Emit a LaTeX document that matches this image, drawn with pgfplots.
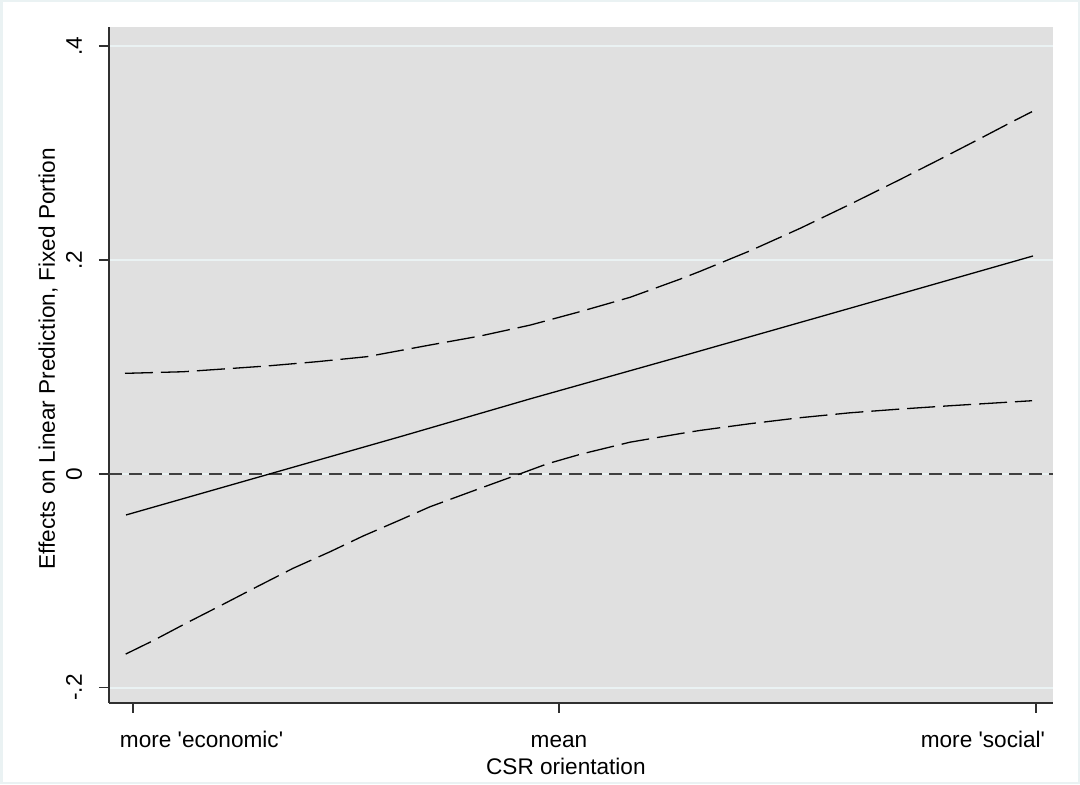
\documentclass[border=0pt]{standalone}
\usepackage{fontspec}
\setmainfont{Liberation Sans}[Ligatures=TeXOff]
\usepackage{pgfplots}
\pgfplotsset{compat=1.18}
\definecolor{plotbg}{HTML}{E0E0E0}
\definecolor{gridc}{HTML}{EAF2F3}
\definecolor{framec}{HTML}{EAF2F3}
\definecolor{zeroc}{HTML}{404040}
\definecolor{axc}{HTML}{303030}
\begin{document}
\begin{tikzpicture}[x=1pt,y=1pt]
\fill[framec] (-54.5,-40.65) rectangle (485.5,351.35);
\fill[white] (-53,-39.65) rectangle (484.5,350.35);
\begin{axis}[
  scale only axis, width=472pt, height=337.7pt,
  at={(0,0)}, anchor=south west,
  xmin=109, xmax=1053, ymin=-0.2142, ymax=0.4176,
  axis lines*=left,
  axis line style={draw=axc, line width=0.8pt},
  axis background/.style={fill=plotbg},
  ymajorgrids, grid style={draw=gridc, line width=1pt},
  xtick={133,559,1036},
  xticklabels={{\makebox[0pt][l]{\hspace{-6.5pt}more 'economic'}},{mean},{\makebox[0pt][r]{more 'social'\hspace{-4.5pt}}}},
  ytick={-0.2,0,0.2,0.4},
  yticklabels={{-.2},{0},{.2},{.4}},
  tick align=outside, major tick length=5pt,
  tick style={draw=axc, line width=0.8pt},
  tick label style={font=\fontsize{11.3}{13}\selectfont, text=black},
  xticklabel style={anchor=base},
  xticklabel shift=17.15pt,
  yticklabel style={rotate=90, anchor=base},
  yticklabel shift=8.5pt,
  label style={font=\fontsize{11.3}{13}\selectfont, text=black},
  xlabel={CSR orientation},
  xlabel style={at={(rel axis cs:0.484,0)}, anchor=base, yshift=-35.65pt},
  ylabel={Effects on Linear Prediction, Fixed Portion},
  ylabel style={at={(rel axis cs:0,0.509)}, anchor=base, yshift=27pt},
]
\addplot[zeroc, line width=1.1pt, dash pattern=on 6.5pt off 3.5pt] coordinates {(109,0) (1053,0)};
\addplot[black, line width=0.65pt, dash pattern=on 14pt off 4pt] coordinates {
(125,0.0939) (183,0.0954) (233,0.0986) (267,0.1008) (317,0.1048) (367,0.1095)
(430,0.1204) (480,0.1288) (530,0.139) (580,0.1516) (630,0.165) (680,0.182)
(700,0.1893) (750,0.2085) (800,0.2295) (850,0.2520) (900,0.2752) (940,0.2942)
(980,0.3135) (1010,0.3282) (1032,0.3387)};
\addplot[black, line width=0.65pt, dash pattern=on 14pt off 4pt] coordinates {
(125.7,-0.1687) (153,-0.1562) (187,-0.1394) (223,-0.1222) (257,-0.1057) (293,-0.0885)
(330,-0.073) (363,-0.0583) (400,-0.0433) (430,-0.0309) (480,-0.0137) (518,-0.0008)
(547,0.0092) (580,0.0181) (630,0.0295) (680,0.0375) (700,0.0405) (750,0.0468)
(800,0.0524) (850,0.0570) (900,0.0605) (950,0.0636) (1032,0.0683)};
\addplot[black, line width=0.65pt] coordinates {
(126,-0.0386) (267,-0.0009) (400,0.0346) (530,0.0700) (680,0.1095) (850,0.1548) (1033,0.2037)};
\end{axis}
\end{tikzpicture}
\end{document}
